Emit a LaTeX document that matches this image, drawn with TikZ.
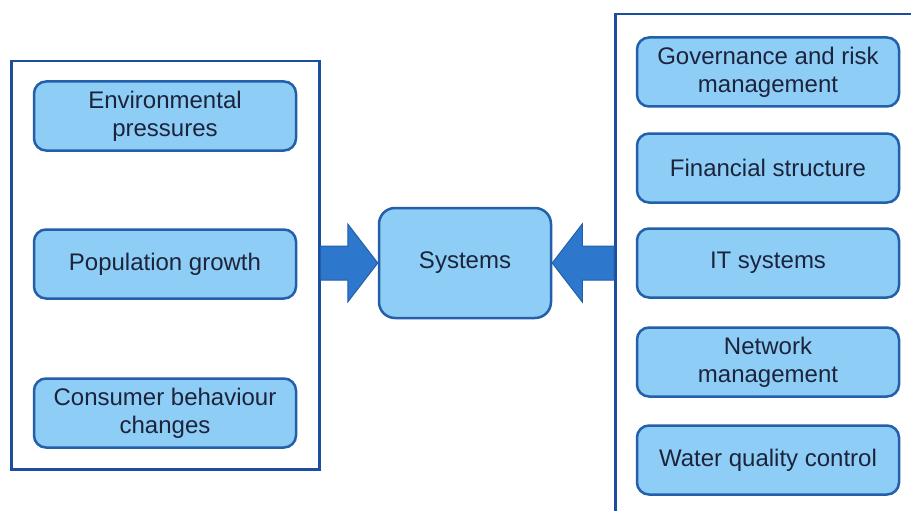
\documentclass[tikz,border=0pt]{standalone}
\usepackage{fontspec}
\setmainfont{Liberation Sans}
\usetikzlibrary{positioning,calc}

\definecolor{boxfill}{RGB}{142,205,245}
\definecolor{boxline}{RGB}{35,95,170}
\definecolor{frameline}{RGB}{28,78,160}
\definecolor{arrowfill}{RGB}{45,120,205}
\definecolor{labeltext}{RGB}{28,36,60}

\tikzset{
  groupframe/.style={draw=frameline,line width=2.5pt,fill=white,inner sep=0pt},
  factor/.style={draw=boxline,fill=boxfill,line width=2.5pt,rounded corners=12pt,
    minimum width=262pt,minimum height=69pt,align=center,text=labeltext,
    font=\fontsize{24}{28}\selectfont},
  fatarrow/.style={fill=arrowfill,draw=boxline,line width=1pt,line join=miter}
}

\begin{document}
\begin{tikzpicture}[x=1pt,y=-1pt]
  \clip (0,0) rectangle (911,511);
  \fill[white] (0,0) rectangle (911,511);

  % the two groups
  \node[groupframe,minimum width=308pt,minimum height=408pt,anchor=north west] (lframe) at (10,60) {};
  \node[groupframe,minimum width=330pt,minimum height=530pt,anchor=north west] (rframe) at (614,13) {};

  % outside pressures
  \node[factor] (env) at (165,116) {Environmental\\pressures};
  \node[factor] (pop) at (165,264) {Population growth};
  \node[factor] (cons) at (165,413) {Consumer behaviour\\changes};

  % inside the business
  \foreach \y/\txt [count=\i] in {72/{Governance and risk\\management},
      168/{Financial structure}, 263/{IT systems},
      362/{Network\\management}, 460/{Water quality control}}
    \node[factor] (r\i) at (768,\y) {\txt};

  \node[factor,minimum width=172pt,minimum height=110pt,rounded corners=16pt] (sys) at (465,263) {Systems};

  % block arrows into the middle
  \draw[fatarrow] ($(lframe.east |- sys.west)+(0,-17)$) -- ($(sys.west)+(-30,-17)$)
    -- ($(sys.west)+(-30,-39)$) -- (sys.west) -- ($(sys.west)+(-30,39)$)
    -- ($(sys.west)+(-30,17)$) -- ($(lframe.east |- sys.west)+(0,17)$) -- cycle;
  \draw[fatarrow] ($(rframe.west |- sys.east)+(0,-17)$) -- ($(sys.east)+(30,-17)$)
    -- ($(sys.east)+(30,-39)$) -- (sys.east) -- ($(sys.east)+(30,39)$)
    -- ($(sys.east)+(30,17)$) -- ($(rframe.west |- sys.east)+(0,17)$) -- cycle;
\end{tikzpicture}
\end{document}
